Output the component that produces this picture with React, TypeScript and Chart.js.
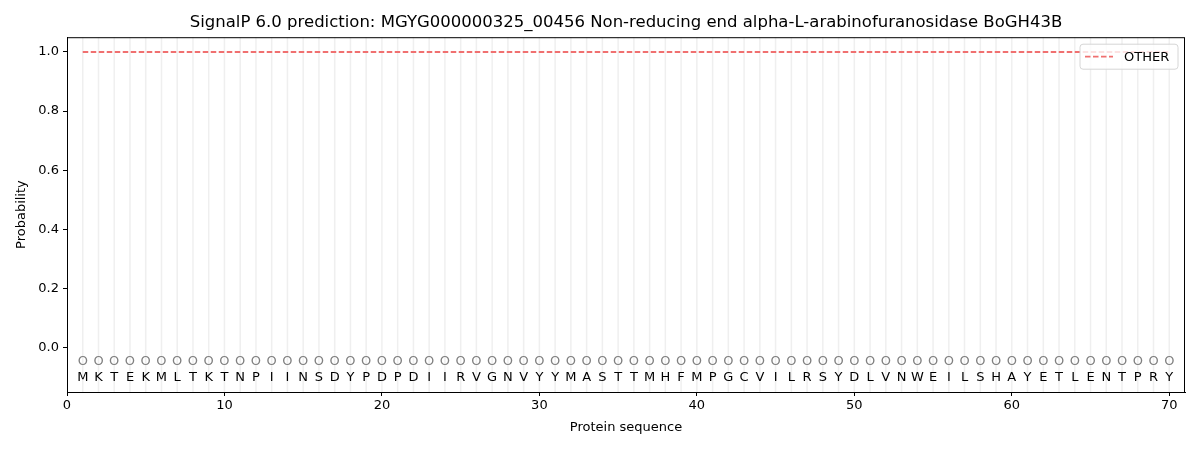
import { useEffect, useRef } from 'react'
import { Chart, registerables, type ChartConfiguration, type Plugin } from 'chart.js'

Chart.register(...registerables)

const TITLE = 'SignalP 6.0 prediction: MGYG000000325_00456 Non-reducing end alpha-L-arabinofuranosidase BoGH43B'
const SEQUENCE = 'MKTEKMLTKTNPIINSDYPDPDIIRVGNVYYMASTTMHFMPGCVILRSYDLVNWEILSHAYETLENTPRY'.split('')
const POSITIONS = SEQUENCE.map((_, i) => i + 1)
const OTHER_PROB = POSITIONS.map(() => 1.0)
const PRED_LABELS = SEQUENCE.map(() => 'O')
const X_TICKS = [0, 10, 20, 30, 40, 50, 60, 70]
const Y_TICKS = [0, 0.2, 0.4, 0.6, 0.8, 1.0]

const FONT = '"DejaVu Sans", sans-serif'

const overlay: Plugin<'line'> = {
  id: 'overlay',
  beforeDatasetsDraw(chart) {
    const { ctx, chartArea, scales } = chart
    ctx.save()
    ctx.strokeStyle = 'rgba(232,232,232,0.7)'
    ctx.lineWidth = 1.5
    POSITIONS.forEach((p) => {
      const x = scales.x.getPixelForValue(p)
      ctx.beginPath()
      ctx.moveTo(x, chartArea.top)
      ctx.lineTo(x, chartArea.bottom)
      ctx.stroke()
    })
    ctx.restore()
  },
  afterDatasetsDraw(chart) {
    const { ctx, chartArea, scales } = chart
    ctx.save()
    ctx.textAlign = 'center'
    ctx.textBaseline = 'middle'
    ctx.font = `13px ${FONT}`
    POSITIONS.forEach((p, i) => {
      const x = scales.x.getPixelForValue(p)
      ctx.fillStyle = '#808080'
      ctx.fillText(PRED_LABELS[i], x, scales.y.getPixelForValue(-0.048))
      ctx.fillStyle = '#000000'
      ctx.fillText(SEQUENCE[i], x, scales.y.getPixelForValue(-0.1))
    })
    // title centred over the plot area
    ctx.font = `16.5px ${FONT}`
    ctx.fillText(TITLE, (chartArea.left + chartArea.right) / 2, 22.5)
    ctx.font = `13px ${FONT}`
    // frame
    ctx.strokeStyle = '#000'
    ctx.lineWidth = 1
    ctx.strokeRect(chartArea.left + 0.5, chartArea.top + 0.5, chartArea.right - chartArea.left - 1, chartArea.bottom - chartArea.top)
    // legend
    const bx = chartArea.right - 105
    const by = chartArea.top + 7
    const bw = 98
    const bh = 25
    ctx.fillStyle = 'rgba(255,255,255,0.8)'
    ctx.strokeStyle = '#d6d6d6'
    ctx.beginPath()
    ctx.roundRect(bx, by, bw, bh, 3)
    ctx.fill()
    ctx.stroke()
    ctx.strokeStyle = '#f07070'
    ctx.lineWidth = 1.8
    ctx.setLineDash([5.5, 2.5])
    ctx.beginPath()
    ctx.moveTo(bx + 5, by + bh / 2)
    ctx.lineTo(bx + 33, by + bh / 2)
    ctx.stroke()
    ctx.setLineDash([])
    ctx.fillStyle = '#000'
    ctx.textAlign = 'left'
    ctx.fillText('OTHER', bx + 44, by + bh / 2 + 1)
    ctx.restore()
  },
}

export default function App() {
  const canvasRef = useRef<HTMLCanvasElement | null>(null)

  useEffect(() => {
    document.body.style.margin = '0'
    const canvas = canvasRef.current
    if (!canvas) return

    const config: ChartConfiguration<'line'> = {
      type: 'line',
      data: {
        datasets: [
          {
            label: 'OTHER',
            data: POSITIONS.map((p, i) => ({ x: p, y: OTHER_PROB[i] })),
            borderColor: '#f07070',
            borderWidth: 1.8,
            borderDash: [5.5, 2.5],
            pointRadius: 0,
            fill: false,
          },
        ],
      },
      options: {
        responsive: false,
        animation: false,
        layout: { padding: { left: 0, right: 15, top: 0, bottom: 0 } },
        plugins: {
          legend: { display: false },
          tooltip: { enabled: false },
          title: {
            // reserves the space; the visible title is drawn by the overlay plugin
            display: true,
            text: TITLE,
            color: 'rgba(0,0,0,0)',
            font: { family: FONT, size: 16, weight: 'normal' },
            padding: { top: 13, bottom: 5 },
          },
        },
        scales: {
          x: {
            type: 'linear',
            min: 0,
            max: 71,
            afterFit: (scale) => {
              scale.height = 58
            },
            afterBuildTicks: (scale) => {
              scale.ticks = X_TICKS.map((v) => ({ value: v }))
            },
            grid: { drawOnChartArea: false, drawTicks: true, tickLength: 4, color: '#000' },
            border: { display: true, color: '#000' },
            ticks: {
              color: '#000',
              font: { family: FONT, size: 13 },
              padding: 2,
              maxRotation: 0,
              callback: (v) => String(v),
            },
            title: {
              display: true,
              text: 'Protein sequence',
              color: '#000',
              font: { family: FONT, size: 13 },
              padding: { top: 2, bottom: 15 },
            },
          },
          y: {
            type: 'linear',
            min: -0.15,
            max: 1.05,
            afterFit: (scale) => {
              scale.width = 67
            },
            afterBuildTicks: (scale) => {
              scale.ticks = Y_TICKS.map((v) => ({ value: v }))
            },
            grid: { drawOnChartArea: false, drawTicks: true, tickLength: 4, color: '#000' },
            border: { display: true, color: '#000' },
            ticks: {
              color: '#000',
              font: { family: FONT, size: 13 },
              padding: 4,
              callback: (v) => Number(v).toFixed(1),
            },
            title: {
              display: true,
              text: 'Probability',
              color: '#000',
              font: { family: FONT, size: 13 },
              padding: { top: 14, bottom: 4 },
            },
          },
        },
      },
      plugins: [overlay],
    }

    const chart = new Chart(canvas, config)
    return () => {
      chart.destroy()
    }
  }, [])

  return (
    <div style={{ width: 1200, height: 450, background: '#fff' }}>
      <canvas ref={canvasRef} width={1200} height={450} />
    </div>
  )
}
